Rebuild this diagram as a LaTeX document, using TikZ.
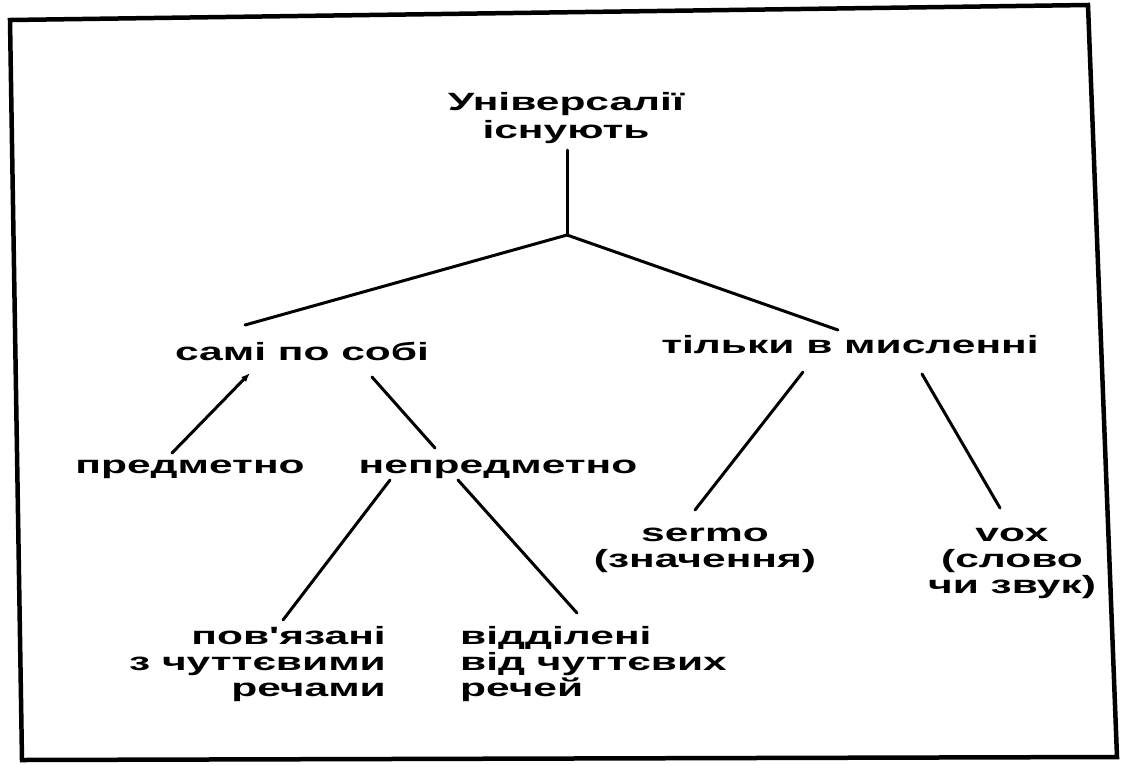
\documentclass[tikz,border=0pt]{standalone}
\usepackage{fontspec}
\usetikzlibrary{calc,arrows.meta}
\newfontfamily\lblfont[FakeStretch=1.7]{Liberation Sans Bold}
\newcommand{\firststrut}{\rule{0pt}{18pt}}
\setlength{\lineskiplimit}{-50pt}
\tikzset{
  lbl/.style={font=\lblfont\fontsize{25}{26}\selectfont, inner sep=0pt, text=black},
  conn/.style={line width=3pt, draw=black, line cap=round},
  frame/.style={line width=4.5pt, draw=black, line join=miter}
}
\begin{document}
\begin{tikzpicture}[x=1pt,y=-1pt]
\useasboundingbox (0,0) rectangle (1122,764);
% frame
\draw[frame] (10,20) -- (1088,5) -- (1117,757) -- (22,760) -- cycle;
% nodes
\node[lbl, align=center, anchor=north, font=\lblfont\fontsize{25}{28}\selectfont] (title) at (566,92) {\firststrut Універсалії\\існують};
\coordinate (j) at (567,235);
\node[lbl, anchor=base] (sami) at (302,360) {самі по собі};
\node[lbl, anchor=base] (tilky) at (850,353) {тільки в мисленні};
\node[lbl, anchor=base] (predm) at (190,473) {предметно};
\node[lbl, anchor=base] (nepredm) at (498,473) {непредметно};
\node[lbl, align=right, anchor=north east] (povyaz) at (386,626) {\firststrut пов'язані\\з чуттєвими\\речами};
\node[lbl, align=left, anchor=north west] (viddil) at (460,626) {\firststrut відділені\\від чуттєвих\\речей};
\node[lbl, align=center, anchor=north] (sermo) at (705,523) {\firststrut sermo\\(значення)};
\node[lbl, align=center, anchor=north] (vox) at (1012,523) {\firststrut vox\\(слово\\чи звук)};
% connectors
\draw[conn] ($(title.north)+(1,58)$) -- (j);
\draw[conn] (j) -- ($(sami.base)+(-57,-35)$);
\draw[conn] (j) -- ($(tilky.base)+(-12,-23)$);
\draw[conn, -{Latex[length=9pt,width=7pt]}] ($(predm.base)+(-18,-20)$) -- ($(sami.base)+(-52,13)$);
\draw[conn] ($(sami.base)+(70,17)$) -- ($(nepredm.base)+(-63,-25)$);
\draw[conn] ($(nepredm.base)+(-108,7)$) -- ($(povyaz.north east)+(-103,-6)$);
\draw[conn] ($(nepredm.base)+(-40,7)$) -- ($(viddil.north west)+(117,-13)$);
\draw[conn] ($(tilky.base)+(-47,19)$) -- ($(sermo.north)+(-10,-13)$);
\draw[conn] ($(tilky.base)+(72,21)$) -- ($(vox.north)+(-12,-15)$);
\end{tikzpicture}
\end{document}
